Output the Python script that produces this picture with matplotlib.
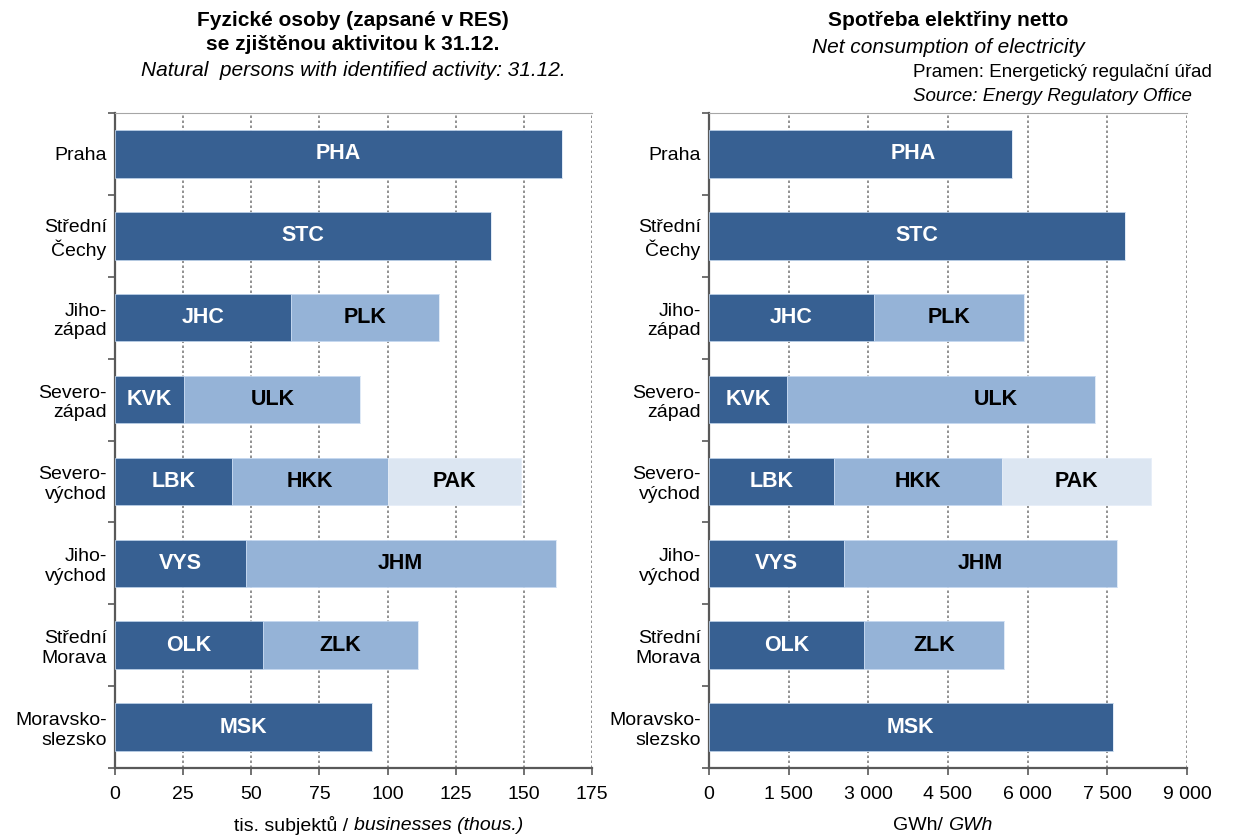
import matplotlib
matplotlib.use("Agg")
import matplotlib.pyplot as plt
import numpy as np
from matplotlib.ticker import FuncFormatter

plt.rcParams['font.family'] = ['Liberation Sans', 'DejaVu Sans']

# kategorie (shora dolu)
regions = ["Praha", "Střední\nČechy", "Jiho-\nzápad", "Severo-\nzápad", "Severo-\nvýchod",
           "Jiho-\nvýchod", "Střední\nMorava", "Moravsko-\nslezsko"]

# zkratky krajů po segmentech
seg1_names = ["PHA", "STC", "JHC", "KVK", "LBK", "VYS", "OLK", "MSK"]
seg2_names = ["", "", "PLK", "ULK", "HKK", "JHM", "ZLK", ""]
seg3_names = ["", "", "", "", "PAK", "", "", ""]

# fyzické osoby (tis.)
persons_1 = [164.0, 137.8, 64.6, 25.4, 42.8, 47.9, 54.4, 94.4]
persons_2 = [0, 0, 54.4, 64.6, 57.2, 113.8, 56.6, 0]
persons_3 = [0, 0, 0, 0, 49.0, 0, 0, 0]

# spotřeba elektřiny (GWh)
elec_1 = [5705, 7833, 3107, 1469, 2354, 2536, 2918, 7601]
elec_2 = [0, 0, 2824, 5799, 3157, 5140, 2642, 0]
elec_3 = [0, 0, 0, 0, 2811, 0, 0, 0]

c_dark = "#376092"
c_mid = "#95b3d7"
c_light = "#dce6f2"


def draw_panel(ax, s1, s2, s3, xmax, step, label_pos=None):
    y = np.arange(len(regions))
    s1 = np.array(s1, float)
    s2 = np.array(s2, float)
    s3 = np.array(s3, float)
    h = 0.58
    ax.barh(y, s1, height=h, color=c_dark, edgecolor="#b9cde5", linewidth=0.6, zorder=3)
    ax.barh(y, s2, left=s1, height=h, color=c_mid, edgecolor="#c6d9f1", linewidth=0.6, zorder=3)
    ax.barh(y, s3, left=s1 + s2, height=h, color=c_light, edgecolor="#e6eef8", linewidth=0.6, zorder=3)

    label_pos = label_pos or {}
    for i in range(len(regions)):
        parts = [(seg1_names[i], 0, s1[i], "white"),
                 (seg2_names[i], s1[i], s2[i], "black"),
                 (seg3_names[i], s1[i] + s2[i], s3[i], "black")]
        for name, left, w, col in parts:
            if not name or w <= 0:
                continue
            xc = label_pos.get(name, left + w / 2)
            ax.text(xc, i, name, ha="center", va="center", color=col,
                    fontsize=15.5, fontweight="bold", zorder=4)

    ax.set_ylim(len(regions) - 0.5, -0.5)
    ax.set_xlim(0, xmax)
    ax.set_xticks(np.arange(0, xmax + step / 2, step))
    ax.set_yticks(y)
    ax.set_yticklabels(regions, fontsize=14, multialignment="right")
    ax.set_yticks(np.arange(-0.5, len(regions)), minor=True)
    ax.tick_params(axis="y", which="major", length=0, pad=6)
    ax.tick_params(axis="y", which="minor", length=5, width=1.2, color="#595959", direction="out")
    ax.tick_params(axis="x", which="major", length=5, width=1.2, color="#595959",
                   direction="out", labelsize=14, pad=8)
    ax.grid(axis="x", linestyle=(0, (1.5, 1.5)), color="#7f7f7f", linewidth=1.2, zorder=0)
    for side in ["left", "bottom"]:
        ax.spines[side].set_color("#595959")
        ax.spines[side].set_linewidth(1.6)
    ax.spines["top"].set_color("#a6a6a6")
    ax.spines["top"].set_linewidth(0.8)
    ax.spines["right"].set_visible(False)


fig = plt.figure(figsize=(12.33, 8.36), dpi=100)
ax1 = fig.add_axes([0.0933, 0.0813, 0.3869, 0.7835])
ax2 = fig.add_axes([0.5750, 0.0813, 0.3877, 0.7835])

draw_panel(ax1, persons_1, persons_2, persons_3, 175, 25)
draw_panel(ax2, elec_1, elec_2, elec_3, 9000, 1500, label_pos={"PHA": 3840, "ULK": 5400})

ax2.xaxis.set_major_formatter(FuncFormatter(lambda v, p: f"{int(v):,}".replace(",", " ")))

# popisky os (část kurzívou)
fig.text(0.2867, 0.012, "tis. subjektů / ", fontsize=14, ha="right", va="center")
fig.text(0.2867, 0.012, "businesses (thous.)", fontsize=14, ha="left", va="center", style="italic")
fig.text(0.7688, 0.012, "GWh/ ", fontsize=14, ha="right", va="center")
fig.text(0.7688, 0.012, "GWh", fontsize=14, ha="left", va="center", style="italic")

# titulky
fig.text(0.2863, 0.976, "Fyzické osoby (zapsané v RES)", ha="center", va="center",
         fontsize=15, fontweight="bold")
fig.text(0.2863, 0.947, "se zjištěnou aktivitou k 31.12.", ha="center", va="center",
         fontsize=15, fontweight="bold")
fig.text(0.2863, 0.916, "Natural  persons with identified activity: 31.12.",
         ha="center", va="center", fontsize=15, style="italic")

fig.text(0.769, 0.976, "Spotřeba elektřiny netto", ha="center", va="center",
         fontsize=15, fontweight="bold")
fig.text(0.769, 0.943, "Net consumption of electricity", ha="center", va="center",
         fontsize=15, style="italic")
fig.text(0.7405, 0.913, "Pramen: Energetický regulační úřad", ha="left", va="center", fontsize=13.5)
fig.text(0.7405, 0.885, "Source: Energy Regulatory Office", ha="left", va="center",
         fontsize=13.5, style="italic")

fig.savefig("out.png", dpi=100)
